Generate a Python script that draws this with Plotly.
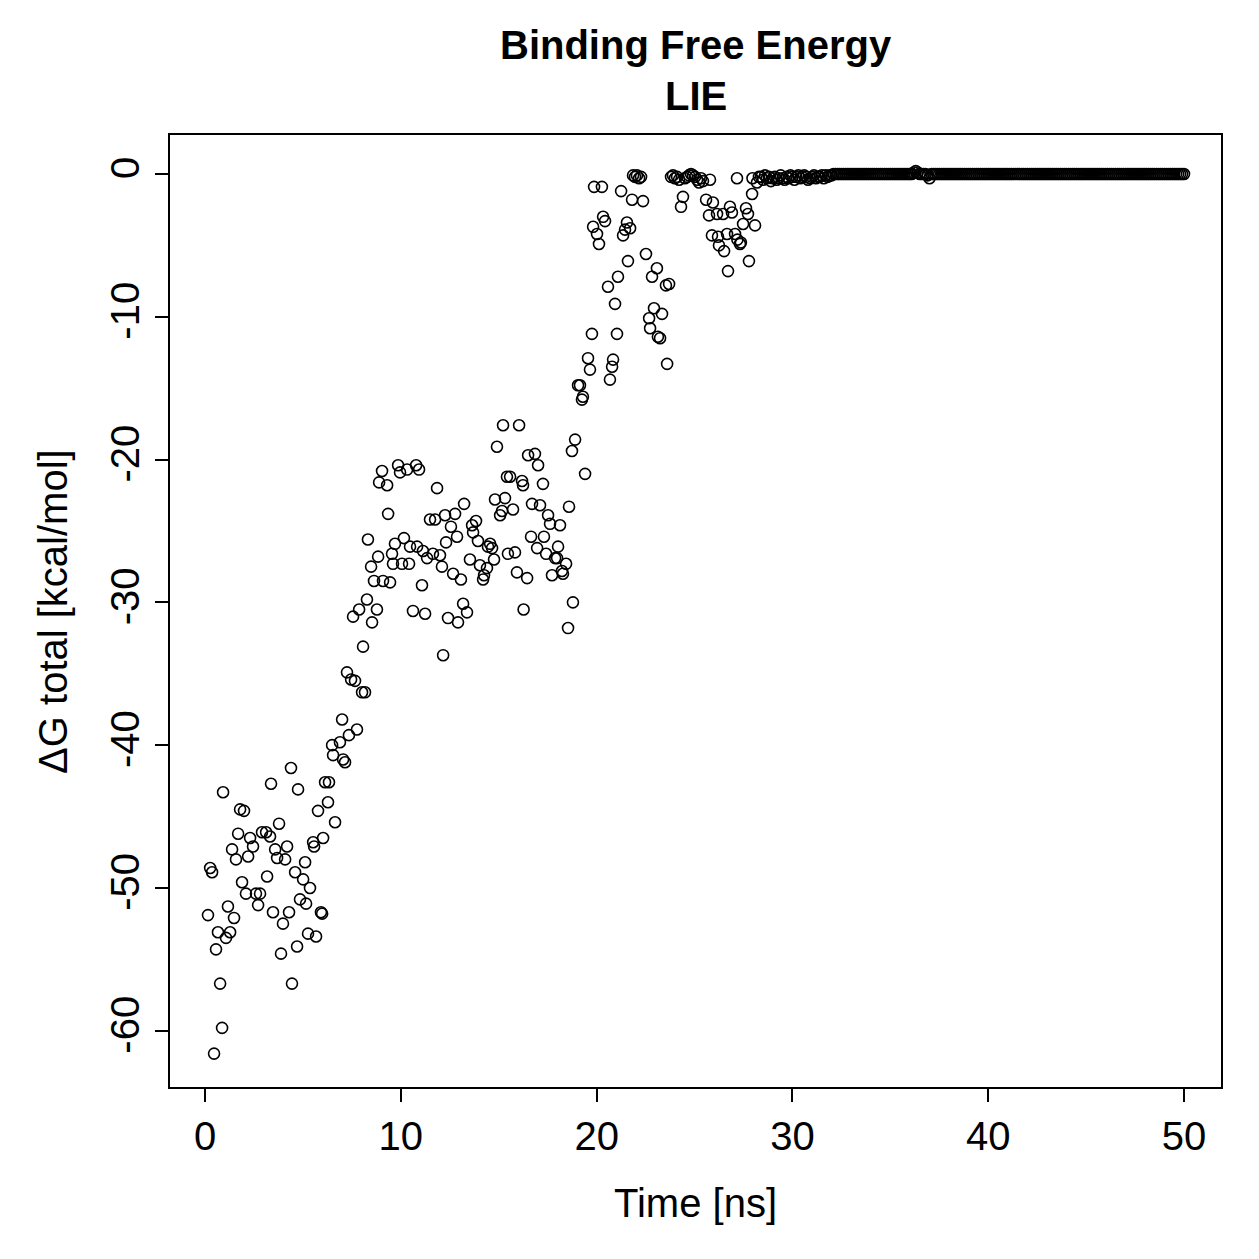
import plotly.graph_objects as go

# ---- data (time in ns, dG in kcal/mol) ----
time_a = [0.15, 0.26, 0.36, 0.46, 0.56, 0.66, 0.77, 0.87, 0.92, 1.07,
          1.17, 1.28, 1.38, 1.48, 1.58, 1.69, 1.79, 1.89, 1.99, 2.09,
          2.20, 2.30, 2.45, 2.60, 2.71, 2.81, 2.91, 3.12, 3.17, 3.32,
          3.37, 3.47, 3.58, 3.68, 3.78, 3.88, 3.98, 4.09, 4.19, 4.29,
          4.39, 4.44, 4.60, 4.70, 4.75, 4.85, 5.01, 5.11, 5.16, 5.26,
          5.36, 5.52, 5.57, 5.67, 5.77, 5.92, 5.98, 6.03, 6.13, 6.28,
          6.33, 6.49, 6.54, 6.64]
dg_a = [-51.9, -48.6, -48.9, -61.6, -54.3, -53.1, -56.7, -59.8, -43.3, -53.5,
        -51.3, -53.1, -47.3, -52.1, -48.0, -46.2, -44.5, -49.6, -44.6, -50.4,
        -47.8, -46.5, -47.1, -50.4, -51.2, -50.4, -46.1, -46.1, -49.2, -46.4,
        -42.7, -51.7, -47.3, -47.9, -45.5, -54.6, -52.5, -48.0, -47.1, -51.7,
        -41.6, -56.7, -48.9, -54.1, -43.1, -50.8, -49.4, -48.2, -51.1, -53.2,
        -50.0, -46.8, -47.1, -53.4, -44.6, -51.7, -51.8, -46.5, -42.6, -44.0,
        -42.6, -40.0, -40.7, -45.4]

time_b = [6.89, 7.00, 7.05, 7.15, 7.25, 7.35, 7.46, 7.56, 7.66, 7.76,
          7.87, 8.02, 8.07, 8.17, 8.27, 8.32, 8.48, 8.53, 8.63, 8.78,
          8.84, 8.89, 9.04, 9.09, 9.30, 9.35, 9.45, 9.55, 9.60, 9.70,
          9.86, 9.96, 10.06, 10.16, 10.32, 10.42, 10.47, 10.62, 10.78, 10.83,
          10.93, 11.08, 11.13, 11.24, 11.34, 11.49, 11.64, 11.75, 11.85, 12.00,
          12.10, 12.16, 12.26, 12.31, 12.41, 12.56, 12.67, 12.77, 12.87, 12.92,
          13.07, 13.18, 13.23, 13.38, 13.53, 13.64, 13.69, 13.84, 13.94, 14.04,
          14.20, 14.25, 14.40, 14.45, 14.56, 14.66, 14.76, 14.81, 14.91, 15.07,
          15.17, 15.22, 15.32, 15.42, 15.47, 15.58, 15.73, 15.83, 15.93, 16.04,
          16.19, 16.24, 16.27, 16.45, 16.50, 16.65, 16.70, 16.85, 16.96, 17.01,
          17.11, 17.26, 17.31, 17.42, 17.52, 17.62, 17.72, 17.88, 17.98, 18.03,
          18.13, 18.23, 18.28, 18.44, 18.54, 18.59, 18.74, 18.79, 18.90]
dg_b = [-39.8, -38.2, -41.0, -41.2, -34.9, -39.3, -35.4, -31.0, -35.5, -38.9,
        -30.5, -36.3, -33.1, -36.3, -29.8, -25.6, -27.5, -31.4, -28.5, -30.5,
        -26.8, -21.6, -20.8, -28.5, -21.8, -23.8, -28.6, -26.6, -27.3, -25.9,
        -20.4, -20.9, -27.3, -25.5, -20.7, -27.3, -26.1, -30.6, -20.4, -26.1,
        -20.7, -28.8, -26.4, -30.8, -26.9, -24.2, -26.6, -24.2, -22.0, -26.7,
        -27.5, -33.7, -23.9, -25.8, -31.1, -24.7, -28.0, -23.8, -25.4, -31.4,
        -28.4, -30.1, -23.1, -30.7, -27.0, -24.6, -25.1, -24.3, -25.7, -27.4,
        -28.4, -28.1, -27.6, -26.1, -25.9, -26.2, -27.0, -22.8, -19.1, -23.9,
        -23.6, -17.6, -22.7, -21.2, -26.6, -21.2, -23.5, -26.5, -27.9, -17.6,
        -21.5, -21.8, -30.5, -28.3, -19.7, -25.4, -23.1, -19.6, -26.2, -20.4,
        -23.2, -21.7, -25.4, -26.6, -23.9, -24.5, -28.1, -26.9, -26.9, -26.1,
        -24.6, -27.8, -28.0, -27.3, -31.8, -23.3, -19.4, -30.0, -18.6]

time_c = [19.05, 19.15, 19.25, 19.30, 19.41, 19.56, 19.66, 19.76, 19.82, 19.87,
          20.02, 20.12, 20.27, 20.33, 20.43, 20.58, 20.68, 20.79, 20.84, 20.94,
          21.04, 21.09, 21.25, 21.35, 21.45, 21.55, 21.60, 21.71, 21.81, 21.86,
          21.96, 22.06, 22.17, 22.27, 22.37, 22.52, 22.68, 22.73, 22.83, 22.93,
          23.08, 23.13, 23.24, 23.34, 23.54, 23.60, 23.70, 23.80, 23.90, 24.00,
          24.11, 24.21, 24.31, 24.41, 24.51, 24.62, 24.72, 24.82, 24.92, 25.03,
          25.13, 25.23, 25.33, 25.43, 25.59, 25.74, 25.79, 25.89, 25.94, 26.15,
          26.20, 26.25, 26.46, 26.51, 26.66, 26.71, 26.81, 26.91, 27.07, 27.17,
          27.19, 27.32, 27.37, 27.48, 27.63, 27.73, 27.78, 27.94, 27.96, 28.09,
          28.19, 28.29]
dg_c = [-14.8, -14.8, -15.8, -15.6, -21.0, -12.9, -13.7, -11.2, -3.7, -0.9,
        -4.2, -4.9, -0.9, -3.0, -3.3, -7.9, -14.4, -13.5, -13.0, -9.1,
        -11.2, -7.2, -1.2, -4.3, -3.9, -3.4, -6.1, -3.8, -1.8, -0.1,
        -0.2, -0.1, -0.3, -0.2, -1.9, -5.6, -10.1, -10.8, -7.2, -9.4,
        -6.6, -11.4, -11.5, -9.8, -7.8, -13.3, -7.7, -0.2, -0.1, -0.3,
        -0.2, -0.4, -2.3, -1.6, -0.3, -0.2, -0.1, 0.0, -0.1, -0.2,
        -0.4, -0.6, -0.3, -0.5, -1.8, -2.9, -0.4, -4.3, -2.0, -2.8,
        -4.4, -5.0, -2.8, -5.4, -4.2, -6.8, -2.3, -2.7, -4.2, -0.3,
        -4.6, -4.9, -4.8, -3.5, -2.4, -2.8, -6.1, -1.4, -0.3, -3.6,
        -0.6, -0.2]

# plateau: sampled every 0.1 ns from 28.4 ns to 50.0 ns
plateau_start_ns = 28.4
plateau_step_ns = 0.1
dg_plateau = [
    -0.2, -0.4, -0.1, -0.3, -0.2, -0.5, -0.3, -0.2, -0.4, -0.3,
    -0.1, -0.3, -0.4, -0.2, -0.3, -0.1, -0.2, -0.4, -0.2, -0.1,
    -0.3, -0.2, -0.1, -0.2, -0.4, -0.3, -0.2, -0.1, -0.3, -0.2,
    -0.2, -0.1, -0.3, -0.1, -0.2, -0.1, -0.1,
    0, 0, 0, 0, 0, 0, 0, 0, 0, 0,
    0, 0, 0, 0, 0, 0, 0, 0, 0, 0,
    0, 0, 0, 0, 0, 0, 0, 0, 0, 0,
    0, 0, 0, 0, 0, 0, 0, 0, 0, 0, 0,
    0.1, 0.2, 0.1,
    0, 0, 0, 0,
    -0.1, -0.3,
    0, 0, 0, 0, 0, 0, 0, 0, 0, 0,
    0, 0, 0, 0, 0, 0, 0, 0, 0, 0,
    0, 0, 0, 0, 0, 0, 0, 0, 0, 0,
    0, 0, 0, 0, 0, 0, 0, 0, 0, 0,
    0, 0, 0, 0, 0, 0, 0, 0, 0, 0,
    0, 0, 0, 0, 0, 0, 0, 0, 0, 0,
    0, 0, 0, 0, 0, 0, 0, 0, 0, 0,
    0, 0, 0, 0, 0, 0, 0, 0, 0, 0,
    0, 0, 0, 0, 0, 0, 0, 0, 0, 0,
    0, 0, 0, 0, 0, 0, 0, 0, 0, 0,
    0, 0, 0, 0, 0, 0, 0, 0, 0, 0,
    0, 0, 0, 0, 0, 0, 0, 0, 0, 0,
    0, 0, 0, 0, 0, 0, 0, 0, 0, 0,
]
time_plateau = [round(plateau_start_ns + i * plateau_step_ns, 1) for i in range(len(dg_plateau))]

x_ticks = [0, 10, 20, 30, 40, 50]
x_tick_labels = ["0", "10", "20", "30", "40", "50"]
y_ticks = [-60, -50, -40, -30, -20, -10, 0]
y_tick_labels = ["-60", "-50", "-40", "-30", "-20", "-10", "0"]

title_line1 = "Binding Free Energy"
title_line2 = "LIE"
x_title = "Time [ns]"
y_title = "ΔG total [kcal/mol]"

time_ns = time_a + time_b + time_c + time_plateau
dg_total = dg_a + dg_b + dg_c + dg_plateau

FONT = "Liberation Sans, Arial, Helvetica, sans-serif"

fig = go.Figure()
fig.add_trace(go.Scatter(
    x=time_ns, y=dg_total, mode="markers",
    marker=dict(symbol="circle-open", size=11, color="black",
                line=dict(color="black", width=1.6)),
    showlegend=False, hoverinfo="x+y",
))

axis_common = dict(
    showgrid=False, zeroline=False, showline=True, mirror=True,
    linecolor="black", linewidth=2,
    ticks="outside", ticklen=13, tickwidth=2, tickcolor="black",
    tickfont=dict(family=FONT, size=40, color="black"),
)

fig.update_layout(
    width=1259, height=1259,
    margin=dict(l=170, r=38, t=135, b=172, pad=0),
    paper_bgcolor="white", plot_bgcolor="white",
    font=dict(family=FONT, color="black"),
    xaxis=dict(range=[-1.79, 51.89], tickvals=x_ticks, ticktext=x_tick_labels,
               **axis_common),
    yaxis=dict(range=[-63.94, 2.73], tickvals=y_ticks, ticktext=y_tick_labels,
               tickangle=-90, **axis_common),
    annotations=[
        dict(text="<b>" + title_line1 + "</b>", x=0.5, y=1.0945, xref="paper", yref="paper",
             xanchor="center", yanchor="middle", showarrow=False,
             font=dict(family=FONT, size=40, color="black")),
        dict(text="<b>" + title_line2 + "</b>", x=0.5, y=1.041, xref="paper", yref="paper",
             xanchor="center", yanchor="middle", showarrow=False,
             font=dict(family=FONT, size=40, color="black")),
        dict(text=x_title, x=0.5, y=-0.1218, xref="paper", yref="paper",
             xanchor="center", yanchor="middle", showarrow=False,
             font=dict(family=FONT, size=40, color="black")),
        dict(text=y_title, x=-0.1114, y=0.5, xref="paper", yref="paper",
             xanchor="center", yanchor="middle", textangle=-90, showarrow=False,
             font=dict(family=FONT, size=40, color="black")),
    ],
)

fig.write_html("out.html")
